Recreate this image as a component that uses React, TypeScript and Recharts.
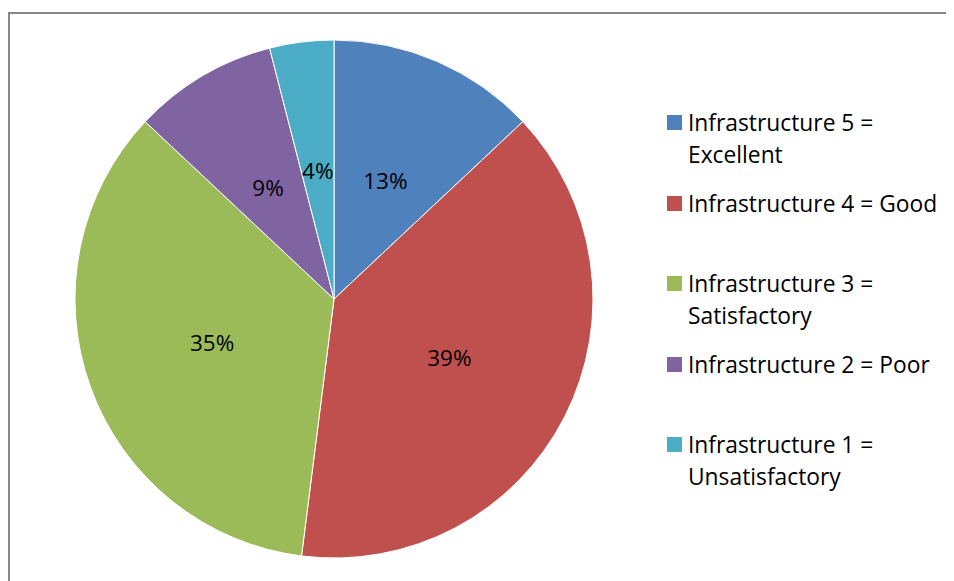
import React from "react";
import { PieChart, Pie, Cell, Legend } from "recharts";

const categories = [
  "Infrastructure 5 = Excellent",
  "Infrastructure 4 = Good",
  "Infrastructure 3 = Satisfactory",
  "Infrastructure 2 = Poor",
  "Infrastructure 1 = Unsatisfactory",
];
const shares = [13, 39, 35, 9, 4];
const colors = ["#4F81BD", "#C0504D", "#9BBB59", "#8064A2", "#4BACC6"];

const data = categories.map((name, i) => ({ name, value: shares[i] }));

const FONT = "'Open Sans', Lato, sans-serif";
const RADIAN = Math.PI / 180;

function SliceLabel({ cx, cy, midAngle, outerRadius, value }: any) {
  const r = outerRadius * 0.5;
  const x = cx + r * Math.cos(-midAngle * RADIAN);
  const y = cy + r * Math.sin(-midAngle * RADIAN);
  return (
    <text
      x={x}
      y={y}
      fill="#000"
      fontSize={22.5}
      fontFamily={FONT}
      textAnchor="middle"
      dominantBaseline="central"
    >
      {value}%
    </text>
  );
}

function LegendBox() {
  return (
    <div style={{ fontFamily: FONT, fontSize: 22.8, color: "#000" }}>
      {data.map((d, i) => (
        <div
          key={d.name}
          style={{ height: 80.5, display: "flex", alignItems: "flex-start" }}
        >
          <div
            style={{
              width: 15,
              height: 15,
              background: colors[i],
              marginTop: 8,
              marginRight: 6,
              flexShrink: 0,
            }}
          />
          <div style={{ width: 262, lineHeight: "32px", whiteSpace: "normal" }}>
            {d.name}
          </div>
        </div>
      ))}
    </div>
  );
}

export default function App() {
  return (
    <div
      style={{
        position: "relative",
        width: 946,
        height: 573,
        overflow: "hidden",
      }}
    >
      <div
        style={{
          position: "absolute",
          left: 0,
          top: 4,
          width: 1000,
          height: 1000,
          border: "2px solid #878787",
        }}
      />
      <div style={{ position: "absolute", left: 0, top: 0 }}>
        <PieChart
          width={946}
          height={573}
          margin={{ top: 0, right: 0, bottom: 0, left: 0 }}
        >
          <Pie
            data={data}
            dataKey="value"
            nameKey="name"
            cx={326}
            cy={291}
            outerRadius={259}
            startAngle={90}
            endAngle={-270}
            stroke="#fff"
            strokeWidth={1}
            label={SliceLabel}
            labelLine={false}
            isAnimationActive={false}
          >
            {data.map((d, i) => (
              <Cell key={d.name} fill={colors[i]} />
            ))}
          </Pie>
          <Legend
            content={<LegendBox />}
            wrapperStyle={{ left: 659, top: 99, width: 290 }}
          />
        </PieChart>
      </div>
    </div>
  );
}
